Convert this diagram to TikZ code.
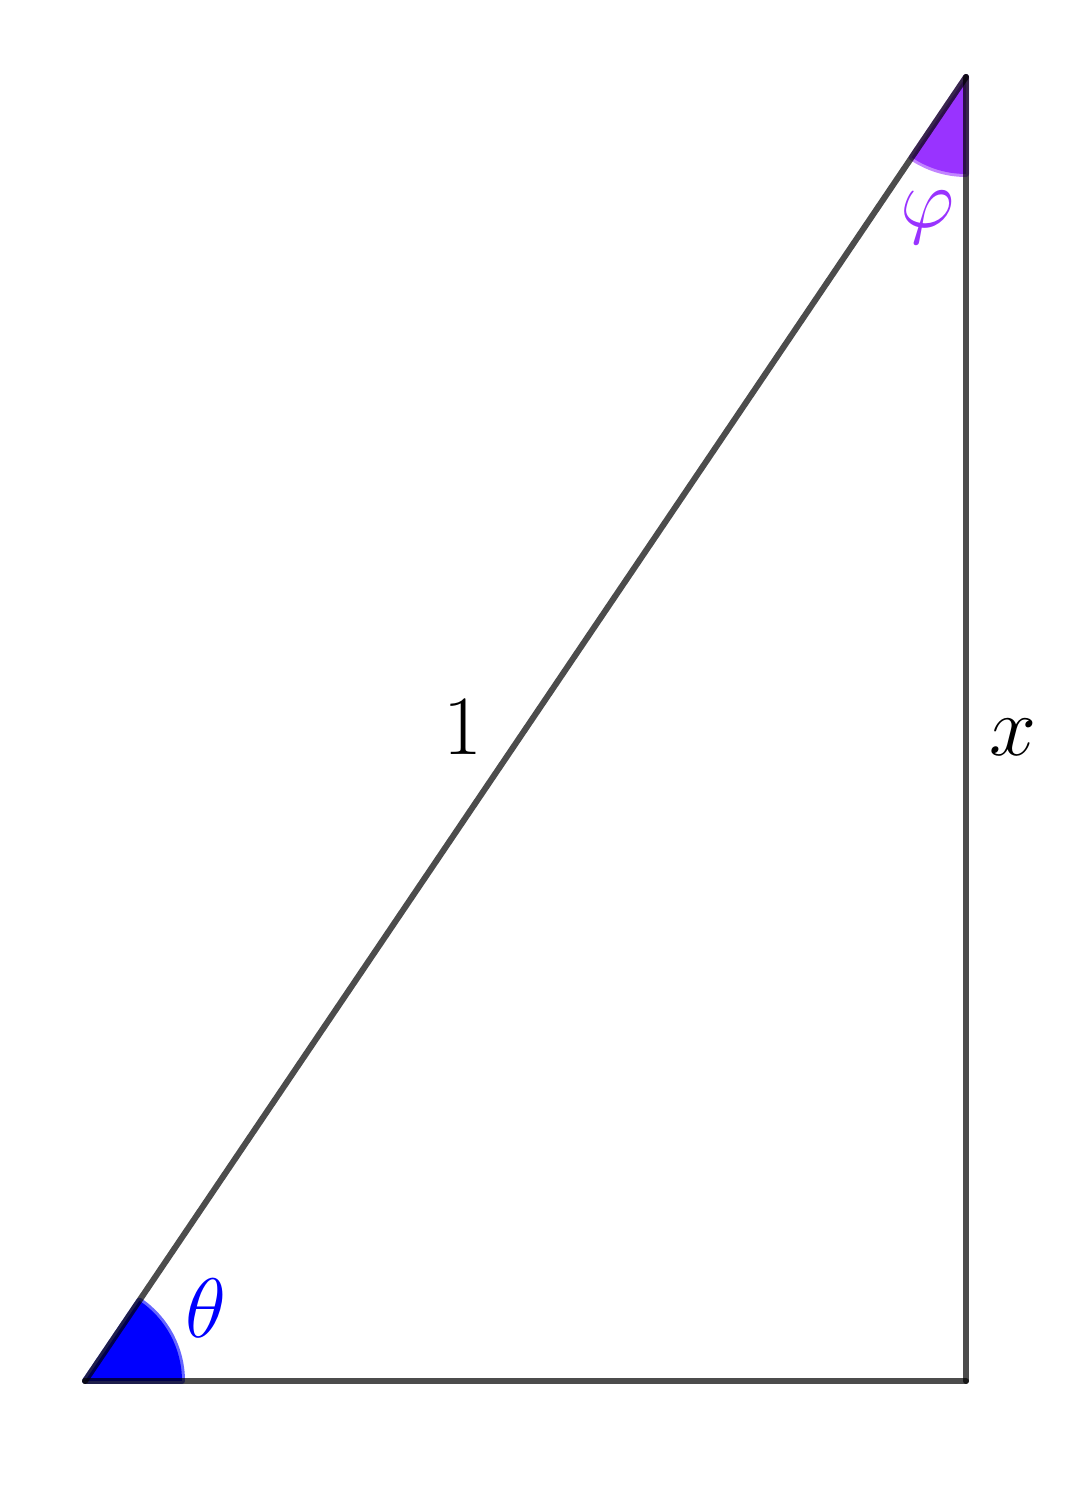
\documentclass[tikz,border=0pt]{standalone}
\usepackage{xcolor}
\definecolor{angblue}{HTML}{0000FF}
\definecolor{angpurple}{HTML}{9933FF}
\begin{document}
\begin{tikzpicture}
\tikzset{
  side/.style={draw=black,draw opacity=0.7,line width=0.12cm,line cap=round,line join=round},
  sector/.style={line width=0.12cm,draw opacity=0.6,line join=round},
  lbl/.style={inner sep=0pt,font=\Huge,scale=1.93}
}
\useasboundingbox (0,0) rectangle (21.76,30.06);
\coordinate (A) at (1.70,2.44);
\coordinate (B) at (19.32,2.44);
\coordinate (C) at (19.32,28.52);
% angle sectors
\filldraw[sector,fill=angblue,draw=angblue] (A) -- ++(0:1.94) arc[start angle=0,end angle=55.95,radius=1.94] -- cycle;
\filldraw[sector,fill=angpurple,draw=angpurple] (C) -- ++(235.95:1.94) arc[start angle=235.95,end angle=270,radius=1.94] -- cycle;
% triangle sides
\draw[side] (A) -- (B);
\draw[side] (B) -- (C);
\draw[side] (C) -- (A);
% labels
\node[lbl] (one) at (9.26,15.52) {$1$};
\node[lbl] (xl) at (20.26,15.32) {$x$};
\node[lbl,text=angpurple] (phi) at (18.56,25.70) {$\varphi$};
\node[lbl,text=angblue] (theta) at (4.12,3.90) {$\theta$};
\end{tikzpicture}
\end{document}
